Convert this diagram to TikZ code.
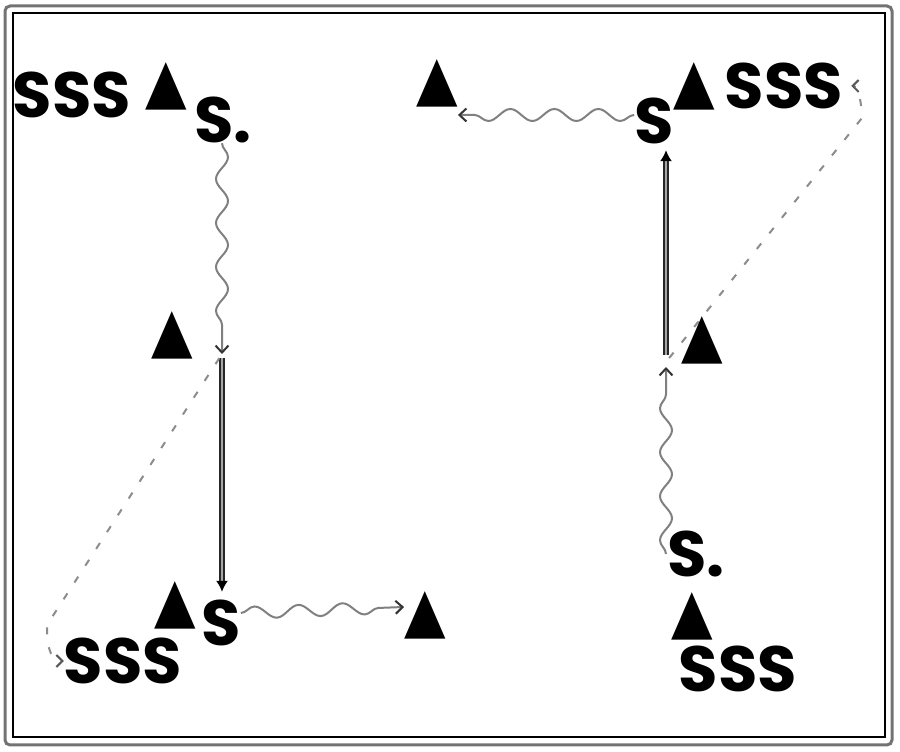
\documentclass[tikz,border=0pt]{standalone}
\usepackage{fontspec}
\setmainfont{Poppins}
\newfontfamily\trifont{DejaVu Sans}
\usetikzlibrary{arrows.meta,backgrounds,decorations.pathmorphing,positioning}
\tikzset{
symstyle/.style={
  inner sep=0pt,
  font=\fontsize{64}{70}\selectfont\bfseries,
  }
}
\tikzset{
tristyle/.style={
  inner sep=0pt,
  font=\fontsize{54}{60}\selectfont\trifont,
  }
}
\tikzset{
wavyline/.style={
  line width=2pt,
  draw=black!50,
  decorate,
  decoration={snake, amplitude=6pt, segment length=44pt, post length=16pt},
  -{Straight Barb[length=7pt,width=13pt,line width=2pt,black!80]}
  }
}
\tikzset{
dblline/.style={
  line width=1.6pt,
  draw=black!85,
  double=black!35,
  double distance=2.2pt,
  -{Latex[length=11pt,width=12pt,black]}
  }
}
\tikzset{
dashline/.style={
  line width=2pt,
  draw=black!45,
  dash pattern=on 7pt off 13pt,
  -{Straight Barb[length=6pt,width=12pt,line width=2pt,black!65]}
  }
}
\newcommand{\tri}{\scalebox{1}[1.15]{▲}}

\begin{document}
\begin{tikzpicture}[x=1pt,y=1pt]
    \useasboundingbox (0,0) rectangle (900,752);
    % frame
    \draw[line width=3pt, draw=black!55, rounded corners=5pt] (5,7) rectangle (892,746);
    \draw[line width=1.1pt] (13,15) rectangle (885,739);

    % left part
    \node[symstyle] (sss_tl) at (72,657) {SSS};
    \node[tristyle] (tri_tl) at (166,666) {\tri};
    \node[symstyle] (sdot_tl) at (223,632) {S.};
    \node[tristyle] (tri_ml) at (172,417) {\tri};
    \coordinate (j_l) at (222,398);
    \node[tristyle] (tri_bl) at (175,147) {\tri};
    \node[symstyle] (s_bl) at (221,129) {S};
    \node[symstyle] (sss_bl) at (123,91) {SSS};
    \node[tristyle] (tri_br) at (425,137) {\tri};
    \coordinate (bend_l) at (47,127);

    % right part
    \node[tristyle] (tri_tr) at (437,669) {\tri};
    \node[symstyle] (s_tr) at (654,631) {S};
    \node[tristyle] (tri_tm) at (694,666) {\tri};
    \node[symstyle] (sss_tr) at (784,666) {SSS};
    \node[tristyle] (tri_mr) at (702,412) {\tri};
    \coordinate (j_r) at (666,390);
    \node[symstyle] (sdot_br) at (696,198) {S.};
    \node[tristyle] (tri_b) at (692,136) {\tri};
    \node[symstyle] (sss_b) at (738,83) {SSS};
    \coordinate (bend_r) at (862,634);

    \begin{scope}[on background layer]
    % left edges
    \draw[wavyline] (sdot_tl.south -| j_l) -- (j_l);
    \draw[dblline, shorten <=4pt, shorten >=8pt] (j_l) -- (j_l |- s_bl.north);
    \draw[dashline, shorten <=5pt] (j_l) -- (bend_l) to[out=-90,in=180] (sss_bl.west);
    \draw[wavyline] ([yshift=10pt]s_bl.east) -- ([yshift=8pt]tri_br.west);

    % right edges
    \draw[wavyline] ([yshift=6pt]s_tr.west) -- ([yshift=-32pt]tri_tr.east);
    \draw[wavyline, shorten >=5pt] (sdot_br.west -| j_r) -- (j_r);
    \draw[dblline, shorten <=7pt, shorten >=6pt] (j_r) -- (j_r |- s_tr.south);
    \draw[dashline, shorten <=5pt, shorten >=8pt] (j_r) -- (bend_r) to[out=90,in=0] (sss_tr.east);
    \end{scope}
  \end{tikzpicture}
\end{document}
